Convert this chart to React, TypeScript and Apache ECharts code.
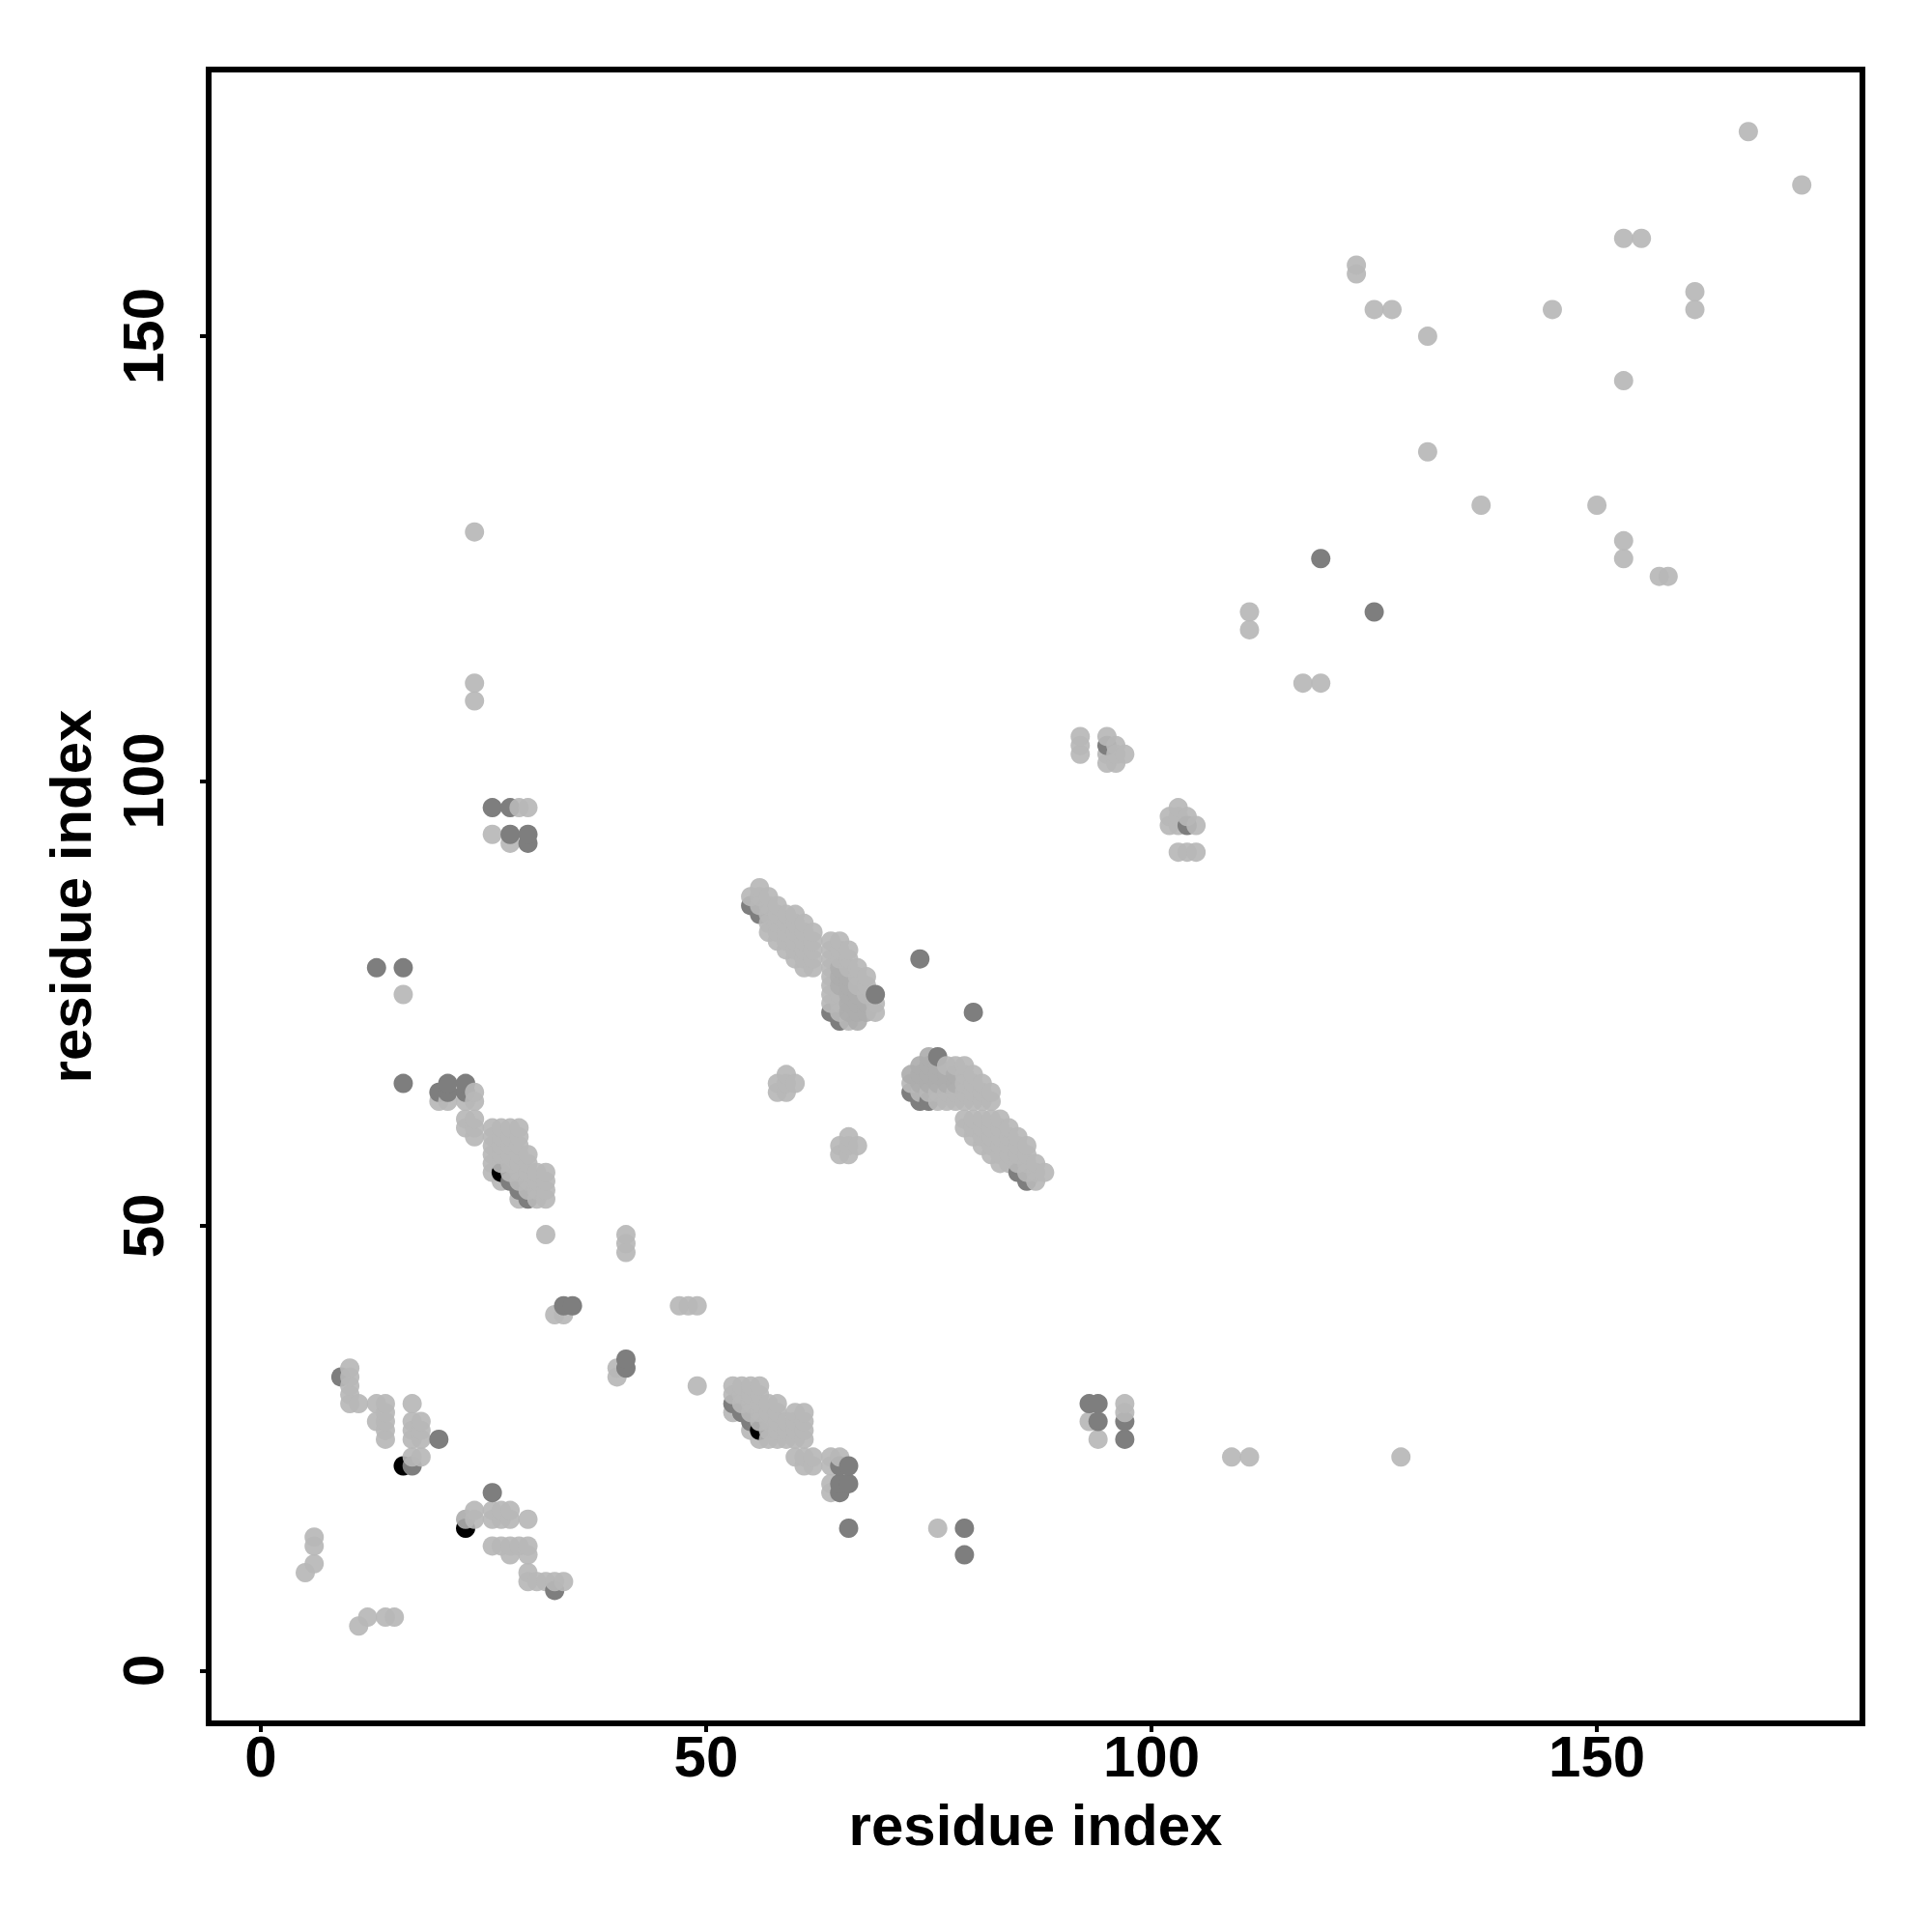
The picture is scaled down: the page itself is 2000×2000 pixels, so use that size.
import React, { useEffect, useRef } from "react";
import * as echarts from "echarts";

const tickValues = [0, 50, 100, 150];
const axisTitle = "residue index";

const lightPoints: number[][] = [
  [5,11],[6,12],[6,14],[6,15],[10,30],[10,31],[10,32],[10,33],[10,34],[11,5],[11,30],[12,6],[13,28],[13,30],
  [14,6],[14,26],[14,27],[14,28],[14,29],[14,30],[15,6],[16,76],[17,24],[17,26],[17,27],[17,28],[17,30],[18,24],[18,26],[18,27],[18,28],
  [20,64],[21,64],[23,61],[23,62],[23,64],[24,17],[24,18],[24,60],[24,61],[24,62],[24,64],[24,65],[24,109],[24,111],[24,128],
  [26,14],[26,17],[26,18],[26,56],[26,57],[26,58],[26,59],[26,60],[26,61],[26,94],
  [27,14],[27,17],[27,18],[27,55],[27,57],[27,58],[27,59],[27,60],[27,61],
  [28,13],[28,14],[28,17],[28,18],[28,56],[28,57],[28,58],[28,59],[28,60],[28,61],[28,93],
  [29,14],[29,53],[29,55],[29,56],[29,57],[29,58],[29,59],[29,60],[29,61],[29,97],
  [30,10],[30,11],[30,13],[30,14],[30,17],[30,54],[30,55],[30,56],[30,57],[30,58],[30,97],
  [31,10],[31,53],[31,54],[31,55],[31,56],[32,10],[32,49],[32,53],[32,54],[32,55],[32,56],[33,10],[33,40],[34,10],[34,40],
  [40,33],[40,34],[41,47],[41,48],[41,49],[47,41],[48,41],[49,32],[49,41],
  [53,29],[53,31],[53,32],[54,30],[54,31],[54,32],[55,27],[55,29],[55,30],[55,31],[55,32],[55,87],
  [56,26],[56,28],[56,29],[56,30],[56,31],[56,32],[56,86],[56,87],[56,88],
  [57,26],[57,27],[57,28],[57,29],[57,30],[57,83],[57,84],[57,85],[57,86],[57,87],
  [58,26],[58,27],[58,28],[58,29],[58,30],[58,65],[58,66],[58,82],[58,83],[58,84],[58,85],[58,86],
  [59,26],[59,27],[59,28],[59,65],[59,66],[59,67],[59,81],[59,82],[59,83],[59,84],[59,85],
  [60,24],[60,26],[60,27],[60,28],[60,29],[60,66],[60,80],[60,81],[60,82],[60,83],[60,84],[60,85],
  [61,23],[61,24],[61,26],[61,27],[61,28],[61,29],[61,79],[61,80],[61,81],[61,82],[61,83],[61,84],
  [62,23],[62,24],[62,79],[62,80],[62,81],[62,82],[62,83],
  [64,20],[64,21],[64,23],[64,24],[64,75],[64,76],[64,77],[64,78],[64,79],[64,80],[64,81],[64,82],
  [65,24],[65,58],[65,59],[65,74],[65,75],[65,76],[65,80],[65,81],[65,82],
  [66,58],[66,59],[66,60],[66,73],[66,79],[66,80],[66,81],[67,59],[67,77],[67,78],[67,79],
  [68,76],[68,77],[68,78],[69,75],[69,74],
  [73,66],[74,65],[75,65],[76,16],[76,64],[76,65],[77,64],[77,65],[77,68],[78,64],[78,65],[78,68],
  [79,61],[79,62],[79,64],[79,65],[79,66],[79,67],[79,68],[80,60],[80,61],[80,62],[80,64],[80,65],[80,66],[80,67],
  [81,59],[81,60],[81,61],[81,62],[81,64],[81,65],[81,66],[82,58],[82,59],[82,60],[82,61],[82,62],[82,64],[82,65],
  [83,57],[83,58],[83,59],[83,60],[83,61],[83,62],[84,57],[84,58],[84,59],[84,60],[84,61],
  [85,57],[85,58],[85,59],[85,60],[86,56],[86,57],[86,58],[86,59],[87,55],[87,56],[87,57],[88,56],
  [92,103],[92,104],[92,105],[93,28],[94,26],[95,102],[95,103],[95,105],[96,102],[96,103],[96,104],[97,103],[97,29],[97,30],
  [102,95],[102,96],[103,92],[103,95],[103,96],[103,97],[104,92],[104,96],[105,92],[105,95],
  [109,24],[111,24],[111,117],[111,119],[117,111],[119,111],[123,157],[123,158],[125,153],[127,153],[128,24],
  [131,137],[131,150],[137,131],[145,153],[150,131],[153,125],[153,127],[153,145],[153,161],[155,161],
  [157,123],[158,123],[161,153],[161,155],[167,173],[173,167],
];

const midPoints: number[][] = [
  [23,17],[65,77],[65,78],[65,79],[66,74],[66,75],[66,76],[66,77],[66,78],[67,73],[67,74],[67,75],[67,76],[68,74],[68,75],
  [73,67],[74,66],[74,67],[74,68],[75,66],[75,67],[75,68],[75,69],[76,66],[76,67],[76,68],[77,66],[77,67],[78,66],[78,67],
];

const darkPoints: number[][] = [
  [9,33],[13,79],[16,66],[16,79],[17,23],[20,26],[20,65],[21,65],[21,66],[23,65],[23,66],[26,20],[26,97],[28,55],[28,94],[28,97],
  [29,54],[30,53],[30,93],[30,94],[33,9],[34,41],[35,41],[41,34],[41,35],[53,30],[54,29],[55,28],[55,86],[56,85],
  [64,74],[65,20],[65,21],[65,23],[65,73],[66,16],[66,21],[66,23],[69,76],[73,65],[74,64],[74,80],[75,64],[76,69],
  [79,13],[79,16],[80,74],[85,56],[86,55],[93,30],[94,28],[94,30],[95,104],[97,26],[97,28],[104,95],[119,125],[125,119],
];

const blackPoints: number[][] = [[16,23],[23,16],[27,56],[56,27]];

const shades: [number[][], string, number][] = [
  [lightPoints, "#b7b7b7", 0.92],
  [midPoints, "#adadad", 0.92],
  [darkPoints, "#7e7e7e", 1],
  [blackPoints, "#000000", 1],
];

function buildData() {
  const rows: { value: number[]; itemStyle: { color: string; opacity: number } }[] = [];
  shades.forEach(([points, color, opacity]) => {
    points.forEach((p) => rows.push({ value: p, itemStyle: { color, opacity } }));
  });
  rows.sort((a, b) => a.value[0] - b.value[0] || a.value[1] - b.value[1]);
  return rows;
}

export default function App() {
  const ref = useRef<HTMLDivElement>(null);
  useEffect(() => {
    const chart = echarts.init(ref.current!, null, { renderer: "svg" });
    const font = "'Liberation Sans', Arial, sans-serif";
    const common = {
      type: "value",
      name: axisTitle,
      nameLocation: "middle",
      nameTextStyle: { fontFamily: font, fontWeight: "bold", fontSize: 60, color: "#000" },
      splitLine: { show: false },
      axisLine: { show: true, onZero: false, lineStyle: { color: "#000", width: 6 } },
      axisTick: { show: true, length: 9, customValues: tickValues, lineStyle: { color: "#000", width: 4 } },
    };
    chart.setOption({
      animation: false,
      backgroundColor: "#fff",
      grid: { left: 216, top: 72, width: 1712, height: 1712, show: true, borderColor: "#000", borderWidth: 6, backgroundColor: "transparent" },
      xAxis: {
        ...common,
        min: -5.845,
        max: 179.81,
        nameGap: 75,
        axisLabel: { customValues: tickValues, fontFamily: font, fontWeight: "bold", fontSize: 60, color: "#000", margin: 4 },
      },
      yAxis: {
        ...common,
        min: -5.94,
        max: 179.98,
        nameGap: 113,
        axisLabel: { customValues: tickValues, rotate: 90, fontFamily: font, fontWeight: "bold", fontSize: 60, color: "#000", margin: 38 },
      },
      series: [
        { type: "scatter", symbol: "circle", symbolSize: 20, data: buildData(), clip: true, large: false },
      ],
    });
    return () => chart.dispose();
  }, []);
  return <div ref={ref} style={{ position: "absolute", left: 0, top: 0, width: 2000, height: 2000 }} />;
}
